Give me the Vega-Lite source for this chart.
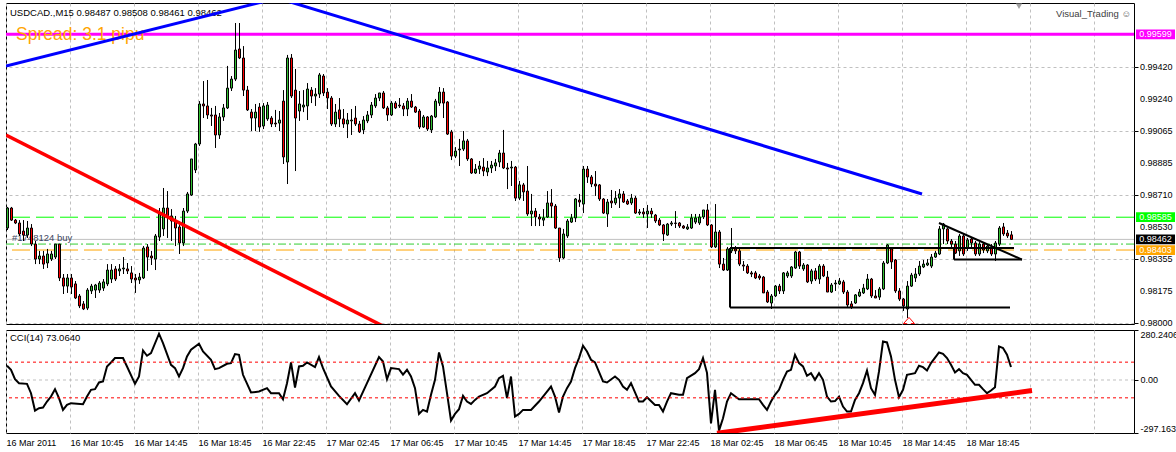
{
"$schema":"https://vega.github.io/schema/vega-lite/v6.json",
"padding":{"left":2,"top":2,"right":0,"bottom":0},
"background":"white",
"spacing":6,
"bounds":"flush",
"config":{"view":{"stroke":"black","strokeWidth":1},"font":"Liberation Sans","text":{"font":"Liberation Sans"},"scale":{"continuousPadding":0},"axis":{"labelOverlap":false,"labelBound":false},"axisY":{"labelOverlap":false},"axisRight":{"labelOverlap":false}},
"datasets":{
"candles":[
{"t":0,"o":0.98525,"h":0.98642,"l":0.98514,"c":0.98636},
{"t":1,"o":0.98636,"h":0.98642,"l":0.98564,"c":0.98569},
{"t":2,"o":0.98569,"h":0.98575,"l":0.98547,"c":0.98553},
{"t":3,"o":0.98553,"h":0.98569,"l":0.98481,"c":0.98492},
{"t":4,"o":0.98508,"h":0.98569,"l":0.98453,"c":0.98486},
{"t":5,"o":0.98486,"h":0.98564,"l":0.98470,"c":0.98525},
{"t":6,"o":0.98525,"h":0.98547,"l":0.98425,"c":0.98436},
{"t":7,"o":0.98436,"h":0.98453,"l":0.98325,"c":0.98353},
{"t":8,"o":0.98353,"h":0.98398,"l":0.98325,"c":0.98370},
{"t":9,"o":0.98370,"h":0.98398,"l":0.98298,"c":0.98325},
{"t":10,"o":0.98331,"h":0.98409,"l":0.98303,"c":0.98381},
{"t":11,"o":0.98353,"h":0.98398,"l":0.98342,"c":0.98381},
{"t":12,"o":0.98364,"h":0.98436,"l":0.98353,"c":0.98436},
{"t":13,"o":0.98436,"h":0.98436,"l":0.98231,"c":0.98248},
{"t":14,"o":0.98248,"h":0.98270,"l":0.98159,"c":0.98203},
{"t":15,"o":0.98203,"h":0.98270,"l":0.98165,"c":0.98248},
{"t":16,"o":0.98248,"h":0.98270,"l":0.98159,"c":0.98198},
{"t":17,"o":0.98215,"h":0.98231,"l":0.98131,"c":0.98137},
{"t":18,"o":0.98148,"h":0.98159,"l":0.98081,"c":0.98093},
{"t":19,"o":0.98104,"h":0.98120,"l":0.98070,"c":0.98076},
{"t":20,"o":0.98081,"h":0.98192,"l":0.98070,"c":0.98181},
{"t":21,"o":0.98176,"h":0.98215,"l":0.98159,"c":0.98203},
{"t":22,"o":0.98181,"h":0.98215,"l":0.98137,"c":0.98209},
{"t":23,"o":0.98181,"h":0.98231,"l":0.98165,"c":0.98220},
{"t":24,"o":0.98192,"h":0.98242,"l":0.98176,"c":0.98226},
{"t":25,"o":0.98215,"h":0.98325,"l":0.98203,"c":0.98292},
{"t":26,"o":0.98242,"h":0.98325,"l":0.98220,"c":0.98292},
{"t":27,"o":0.98298,"h":0.98314,"l":0.98231,"c":0.98242},
{"t":28,"o":0.98287,"h":0.98325,"l":0.98259,"c":0.98298},
{"t":29,"o":0.98298,"h":0.98364,"l":0.98270,"c":0.98303},
{"t":30,"o":0.98298,"h":0.98331,"l":0.98270,"c":0.98287},
{"t":31,"o":0.98276,"h":0.98314,"l":0.98220,"c":0.98242},
{"t":32,"o":0.98248,"h":0.98270,"l":0.98165,"c":0.98237},
{"t":33,"o":0.98237,"h":0.98276,"l":0.98215,"c":0.98253},
{"t":34,"o":0.98248,"h":0.98425,"l":0.98242,"c":0.98414},
{"t":35,"o":0.98420,"h":0.98436,"l":0.98287,"c":0.98364},
{"t":36,"o":0.98370,"h":0.98398,"l":0.98320,"c":0.98359},
{"t":37,"o":0.98353,"h":0.98492,"l":0.98292,"c":0.98481},
{"t":38,"o":0.98475,"h":0.98636,"l":0.98453,"c":0.98603},
{"t":39,"o":0.98520,"h":0.98747,"l":0.98481,"c":0.98636},
{"t":40,"o":0.98636,"h":0.98730,"l":0.98470,"c":0.98592},
{"t":41,"o":0.98592,"h":0.98630,"l":0.98453,"c":0.98564},
{"t":42,"o":0.98564,"h":0.98592,"l":0.98425,"c":0.98525},
{"t":43,"o":0.98531,"h":0.98564,"l":0.98381,"c":0.98442},
{"t":44,"o":0.98442,"h":0.98636,"l":0.98425,"c":0.98619},
{"t":45,"o":0.98619,"h":0.98725,"l":0.98608,"c":0.98714},
{"t":46,"o":0.98708,"h":0.98908,"l":0.98703,"c":0.98908},
{"t":47,"o":0.98847,"h":0.98997,"l":0.98830,"c":0.98991},
{"t":48,"o":0.98991,"h":0.99229,"l":0.98980,"c":0.99213},
{"t":49,"o":0.99213,"h":0.99340,"l":0.99135,"c":0.99202},
{"t":50,"o":0.99202,"h":0.99346,"l":0.99130,"c":0.99152},
{"t":51,"o":0.99152,"h":0.99191,"l":0.99091,"c":0.99146},
{"t":52,"o":0.99152,"h":0.99202,"l":0.98969,"c":0.99041},
{"t":53,"o":0.99041,"h":0.99163,"l":0.99019,"c":0.99141},
{"t":54,"o":0.99141,"h":0.99213,"l":0.99119,"c":0.99191},
{"t":55,"o":0.99191,"h":0.99424,"l":0.99185,"c":0.99301},
{"t":56,"o":0.99301,"h":0.99368,"l":0.99285,"c":0.99351},
{"t":57,"o":0.99351,"h":0.99662,"l":0.99340,"c":0.99512},
{"t":58,"o":0.99518,"h":0.99662,"l":0.99462,"c":0.99468},
{"t":59,"o":0.99468,"h":0.99534,"l":0.99257,"c":0.99290},
{"t":60,"o":0.99290,"h":0.99313,"l":0.99174,"c":0.99180},
{"t":61,"o":0.99168,"h":0.99185,"l":0.99063,"c":0.99135},
{"t":62,"o":0.99135,"h":0.99213,"l":0.99063,"c":0.99168},
{"t":63,"o":0.99196,"h":0.99218,"l":0.99058,"c":0.99085},
{"t":64,"o":0.99091,"h":0.99218,"l":0.99074,"c":0.99202},
{"t":65,"o":0.99130,"h":0.99224,"l":0.99119,"c":0.99207},
{"t":66,"o":0.99135,"h":0.99146,"l":0.99085,"c":0.99102},
{"t":67,"o":0.99107,"h":0.99180,"l":0.99085,"c":0.99102},
{"t":68,"o":0.99107,"h":0.99174,"l":0.99063,"c":0.99124},
{"t":69,"o":0.99229,"h":0.99290,"l":0.98880,"c":0.98919},
{"t":70,"o":0.98891,"h":0.99485,"l":0.98769,"c":0.99468},
{"t":71,"o":0.99468,"h":0.99490,"l":0.99246,"c":0.99257},
{"t":72,"o":0.99290,"h":0.99407,"l":0.98841,"c":0.99135},
{"t":73,"o":0.99174,"h":0.99285,"l":0.99119,"c":0.99213},
{"t":74,"o":0.99196,"h":0.99290,"l":0.99168,"c":0.99207},
{"t":75,"o":0.99202,"h":0.99329,"l":0.99124,"c":0.99296},
{"t":76,"o":0.99290,"h":0.99307,"l":0.99218,"c":0.99257},
{"t":77,"o":0.99257,"h":0.99301,"l":0.99202,"c":0.99268},
{"t":78,"o":0.99268,"h":0.99385,"l":0.99246,"c":0.99374},
{"t":79,"o":0.99368,"h":0.99379,"l":0.99257,"c":0.99274},
{"t":80,"o":0.99279,"h":0.99301,"l":0.99185,"c":0.99246},
{"t":81,"o":0.99246,"h":0.99257,"l":0.99091,"c":0.99102},
{"t":82,"o":0.99102,"h":0.99213,"l":0.99085,"c":0.99168},
{"t":83,"o":0.99180,"h":0.99246,"l":0.99085,"c":0.99130},
{"t":84,"o":0.99130,"h":0.99185,"l":0.99080,"c":0.99102},
{"t":85,"o":0.99102,"h":0.99163,"l":0.99024,"c":0.99124},
{"t":86,"o":0.99119,"h":0.99185,"l":0.99041,"c":0.99124},
{"t":87,"o":0.99135,"h":0.99202,"l":0.99091,"c":0.99102},
{"t":88,"o":0.99102,"h":0.99119,"l":0.99052,"c":0.99058},
{"t":89,"o":0.99069,"h":0.99146,"l":0.99046,"c":0.99124},
{"t":90,"o":0.99119,"h":0.99174,"l":0.99107,"c":0.99152},
{"t":91,"o":0.99152,"h":0.99224,"l":0.99135,"c":0.99207},
{"t":92,"o":0.99202,"h":0.99268,"l":0.99191,"c":0.99246},
{"t":93,"o":0.99246,"h":0.99274,"l":0.99229,"c":0.99274},
{"t":94,"o":0.99274,"h":0.99285,"l":0.99185,"c":0.99191},
{"t":95,"o":0.99191,"h":0.99202,"l":0.99119,"c":0.99152},
{"t":96,"o":0.99152,"h":0.99229,"l":0.99146,"c":0.99218},
{"t":97,"o":0.99218,"h":0.99229,"l":0.99185,"c":0.99191},
{"t":98,"o":0.99207,"h":0.99246,"l":0.99191,"c":0.99202},
{"t":99,"o":0.99202,"h":0.99218,"l":0.99146,"c":0.99185},
{"t":100,"o":0.99185,"h":0.99246,"l":0.99146,"c":0.99229},
{"t":101,"o":0.99229,"h":0.99268,"l":0.99191,"c":0.99196},
{"t":102,"o":0.99196,"h":0.99202,"l":0.99163,"c":0.99168},
{"t":103,"o":0.99174,"h":0.99185,"l":0.99074,"c":0.99085},
{"t":104,"o":0.99085,"h":0.99152,"l":0.99080,"c":0.99141},
{"t":105,"o":0.99141,"h":0.99146,"l":0.99063,"c":0.99074},
{"t":106,"o":0.99069,"h":0.99152,"l":0.99052,"c":0.99146},
{"t":107,"o":0.99141,"h":0.99241,"l":0.99135,"c":0.99229},
{"t":108,"o":0.99218,"h":0.99307,"l":0.99202,"c":0.99279},
{"t":109,"o":0.99279,"h":0.99301,"l":0.99135,"c":0.99218},
{"t":110,"o":0.99224,"h":0.99229,"l":0.99041,"c":0.99046},
{"t":111,"o":0.99058,"h":0.99069,"l":0.98902,"c":0.98924},
{"t":112,"o":0.98924,"h":0.98974,"l":0.98913,"c":0.98952},
{"t":113,"o":0.98958,"h":0.99019,"l":0.98869,"c":0.98963},
{"t":114,"o":0.98963,"h":0.99063,"l":0.98952,"c":0.99008},
{"t":115,"o":0.99008,"h":0.99019,"l":0.98897,"c":0.98908},
{"t":116,"o":0.98908,"h":0.98913,"l":0.98825,"c":0.98830},
{"t":117,"o":0.98830,"h":0.98880,"l":0.98825,"c":0.98852},
{"t":118,"o":0.98852,"h":0.98897,"l":0.98825,"c":0.98869},
{"t":119,"o":0.98863,"h":0.98913,"l":0.98813,"c":0.98841},
{"t":120,"o":0.98836,"h":0.98897,"l":0.98813,"c":0.98858},
{"t":121,"o":0.98858,"h":0.98897,"l":0.98830,"c":0.98874},
{"t":122,"o":0.98869,"h":0.98908,"l":0.98841,"c":0.98886},
{"t":123,"o":0.98891,"h":0.98958,"l":0.98863,"c":0.98941},
{"t":124,"o":0.98941,"h":0.99069,"l":0.98852,"c":0.98858},
{"t":125,"o":0.98858,"h":0.98886,"l":0.98741,"c":0.98852},
{"t":126,"o":0.98858,"h":0.98897,"l":0.98758,"c":0.98863},
{"t":127,"o":0.98863,"h":0.98869,"l":0.98675,"c":0.98691},
{"t":128,"o":0.98691,"h":0.98786,"l":0.98680,"c":0.98764},
{"t":129,"o":0.98764,"h":0.98775,"l":0.98675,"c":0.98725},
{"t":130,"o":0.98730,"h":0.98869,"l":0.98592,"c":0.98603},
{"t":131,"o":0.98603,"h":0.98714,"l":0.98536,"c":0.98619},
{"t":132,"o":0.98619,"h":0.98636,"l":0.98536,"c":0.98586},
{"t":133,"o":0.98586,"h":0.98603,"l":0.98536,"c":0.98575},
{"t":134,"o":0.98569,"h":0.98630,"l":0.98536,"c":0.98581},
{"t":135,"o":0.98586,"h":0.98730,"l":0.98581,"c":0.98664},
{"t":136,"o":0.98664,"h":0.98741,"l":0.98581,"c":0.98647},
{"t":137,"o":0.98647,"h":0.98658,"l":0.98520,"c":0.98525},
{"t":138,"o":0.98525,"h":0.98525,"l":0.98337,"c":0.98359},
{"t":139,"o":0.98359,"h":0.98520,"l":0.98353,"c":0.98492},
{"t":140,"o":0.98481,"h":0.98575,"l":0.98470,"c":0.98564},
{"t":141,"o":0.98558,"h":0.98603,"l":0.98553,"c":0.98581},
{"t":142,"o":0.98581,"h":0.98691,"l":0.98558,"c":0.98686},
{"t":143,"o":0.98680,"h":0.98714,"l":0.98642,"c":0.98669},
{"t":144,"o":0.98658,"h":0.98869,"l":0.98608,"c":0.98852},
{"t":145,"o":0.98852,"h":0.98869,"l":0.98775,"c":0.98808},
{"t":146,"o":0.98808,"h":0.98819,"l":0.98752,"c":0.98769},
{"t":147,"o":0.98769,"h":0.98841,"l":0.98703,"c":0.98758},
{"t":148,"o":0.98764,"h":0.98769,"l":0.98675,"c":0.98686},
{"t":149,"o":0.98686,"h":0.98691,"l":0.98603,"c":0.98608},
{"t":150,"o":0.98603,"h":0.98686,"l":0.98531,"c":0.98669},
{"t":151,"o":0.98675,"h":0.98736,"l":0.98636,"c":0.98664},
{"t":152,"o":0.98664,"h":0.98730,"l":0.98653,"c":0.98691},
{"t":153,"o":0.98691,"h":0.98741,"l":0.98636,"c":0.98714},
{"t":154,"o":0.98714,"h":0.98730,"l":0.98664,"c":0.98669},
{"t":155,"o":0.98675,"h":0.98686,"l":0.98653,"c":0.98658},
{"t":156,"o":0.98664,"h":0.98714,"l":0.98653,"c":0.98691},
{"t":157,"o":0.98691,"h":0.98703,"l":0.98603,"c":0.98608},
{"t":158,"o":0.98608,"h":0.98630,"l":0.98597,"c":0.98614},
{"t":159,"o":0.98614,"h":0.98636,"l":0.98581,"c":0.98603},
{"t":160,"o":0.98603,"h":0.98653,"l":0.98525,"c":0.98619},
{"t":161,"o":0.98619,"h":0.98636,"l":0.98581,"c":0.98603},
{"t":162,"o":0.98597,"h":0.98603,"l":0.98553,"c":0.98564},
{"t":163,"o":0.98569,"h":0.98581,"l":0.98536,"c":0.98542},
{"t":164,"o":0.98542,"h":0.98547,"l":0.98453,"c":0.98492},
{"t":165,"o":0.98486,"h":0.98553,"l":0.98481,"c":0.98547},
{"t":166,"o":0.98547,"h":0.98564,"l":0.98536,"c":0.98553},
{"t":167,"o":0.98553,"h":0.98619,"l":0.98525,"c":0.98550},
{"t":168,"o":0.98553,"h":0.98558,"l":0.98525,"c":0.98536},
{"t":169,"o":0.98536,"h":0.98542,"l":0.98520,"c":0.98525},
{"t":170,"o":0.98520,"h":0.98547,"l":0.98514,"c":0.98531},
{"t":171,"o":0.98525,"h":0.98603,"l":0.98520,"c":0.98581},
{"t":172,"o":0.98558,"h":0.98603,"l":0.98547,"c":0.98581},
{"t":173,"o":0.98553,"h":0.98603,"l":0.98542,"c":0.98586},
{"t":174,"o":0.98586,"h":0.98625,"l":0.98575,"c":0.98625},
{"t":175,"o":0.98625,"h":0.98658,"l":0.98536,"c":0.98542},
{"t":176,"o":0.98542,"h":0.98547,"l":0.98414,"c":0.98420},
{"t":177,"o":0.98420,"h":0.98658,"l":0.98414,"c":0.98503},
{"t":178,"o":0.98503,"h":0.98514,"l":0.98303,"c":0.98325},
{"t":179,"o":0.98325,"h":0.98359,"l":0.98287,"c":0.98292},
{"t":180,"o":0.98292,"h":0.98420,"l":0.98287,"c":0.98409},
{"t":181,"o":0.98398,"h":0.98525,"l":0.98386,"c":0.98414},
{"t":182,"o":0.98409,"h":0.98425,"l":0.98381,"c":0.98398},
{"t":183,"o":0.98398,"h":0.98409,"l":0.98314,"c":0.98325},
{"t":184,"o":0.98320,"h":0.98342,"l":0.98287,"c":0.98314},
{"t":185,"o":0.98314,"h":0.98325,"l":0.98270,"c":0.98276},
{"t":186,"o":0.98276,"h":0.98287,"l":0.98253,"c":0.98270},
{"t":187,"o":0.98276,"h":0.98287,"l":0.98242,"c":0.98248},
{"t":188,"o":0.98259,"h":0.98270,"l":0.98237,"c":0.98248},
{"t":189,"o":0.98253,"h":0.98259,"l":0.98165,"c":0.98165},
{"t":190,"o":0.98170,"h":0.98181,"l":0.98109,"c":0.98115},
{"t":191,"o":0.98109,"h":0.98159,"l":0.98076,"c":0.98148},
{"t":192,"o":0.98148,"h":0.98209,"l":0.98142,"c":0.98203},
{"t":193,"o":0.98203,"h":0.98215,"l":0.98159,"c":0.98176},
{"t":194,"o":0.98176,"h":0.98281,"l":0.98159,"c":0.98276},
{"t":195,"o":0.98259,"h":0.98287,"l":0.98248,"c":0.98276},
{"t":196,"o":0.98259,"h":0.98314,"l":0.98248,"c":0.98309},
{"t":197,"o":0.98303,"h":0.98398,"l":0.98298,"c":0.98392},
{"t":198,"o":0.98392,"h":0.98398,"l":0.98298,"c":0.98314},
{"t":199,"o":0.98298,"h":0.98331,"l":0.98287,"c":0.98320},
{"t":200,"o":0.98320,"h":0.98325,"l":0.98220,"c":0.98226},
{"t":201,"o":0.98231,"h":0.98298,"l":0.98215,"c":0.98287},
{"t":202,"o":0.98287,"h":0.98303,"l":0.98231,"c":0.98242},
{"t":203,"o":0.98242,"h":0.98325,"l":0.98215,"c":0.98314},
{"t":204,"o":0.98314,"h":0.98325,"l":0.98253,"c":0.98259},
{"t":205,"o":0.98253,"h":0.98287,"l":0.98170,"c":0.98170},
{"t":206,"o":0.98170,"h":0.98220,"l":0.98165,"c":0.98209},
{"t":207,"o":0.98215,"h":0.98237,"l":0.98176,"c":0.98220},
{"t":208,"o":0.98215,"h":0.98248,"l":0.98209,"c":0.98231},
{"t":209,"o":0.98226,"h":0.98237,"l":0.98159,"c":0.98170},
{"t":210,"o":0.98170,"h":0.98181,"l":0.98087,"c":0.98098},
{"t":211,"o":0.98104,"h":0.98120,"l":0.98076,"c":0.98087},
{"t":212,"o":0.98109,"h":0.98159,"l":0.98104,"c":0.98154},
{"t":213,"o":0.98148,"h":0.98187,"l":0.98142,"c":0.98170},
{"t":214,"o":0.98165,"h":0.98215,"l":0.98159,"c":0.98192},
{"t":215,"o":0.98187,"h":0.98270,"l":0.98181,"c":0.98242},
{"t":216,"o":0.98242,"h":0.98248,"l":0.98137,"c":0.98148},
{"t":217,"o":0.98148,"h":0.98181,"l":0.98137,"c":0.98137},
{"t":218,"o":0.98142,"h":0.98198,"l":0.98126,"c":0.98187},
{"t":219,"o":0.98187,"h":0.98342,"l":0.98181,"c":0.98331},
{"t":220,"o":0.98331,"h":0.98436,"l":0.98325,"c":0.98431},
{"t":221,"o":0.98409,"h":0.98414,"l":0.98298,"c":0.98337},
{"t":222,"o":0.98348,"h":0.98353,"l":0.98165,"c":0.98176},
{"t":223,"o":0.98176,"h":0.98192,"l":0.98120,"c":0.98131},
{"t":224,"o":0.98131,"h":0.98137,"l":0.98065,"c":0.98093},
{"t":225,"o":0.98076,"h":0.98231,"l":0.98026,"c":0.98203},
{"t":226,"o":0.98203,"h":0.98276,"l":0.98198,"c":0.98264},
{"t":227,"o":0.98248,"h":0.98303,"l":0.98226,"c":0.98270},
{"t":228,"o":0.98270,"h":0.98342,"l":0.98259,"c":0.98314},
{"t":229,"o":0.98309,"h":0.98348,"l":0.98303,"c":0.98325},
{"t":230,"o":0.98320,"h":0.98353,"l":0.98314,"c":0.98331},
{"t":231,"o":0.98314,"h":0.98381,"l":0.98303,"c":0.98364},
{"t":232,"o":0.98364,"h":0.98398,"l":0.98359,"c":0.98386},
{"t":233,"o":0.98381,"h":0.98536,"l":0.98375,"c":0.98520},
{"t":234,"o":0.98520,"h":0.98553,"l":0.98436,"c":0.98547},
{"t":235,"o":0.98520,"h":0.98525,"l":0.98436,"c":0.98453},
{"t":236,"o":0.98453,"h":0.98464,"l":0.98414,"c":0.98436},
{"t":237,"o":0.98436,"h":0.98453,"l":0.98381,"c":0.98386},
{"t":238,"o":0.98398,"h":0.98492,"l":0.98370,"c":0.98481},
{"t":239,"o":0.98481,"h":0.98492,"l":0.98370,"c":0.98381},
{"t":240,"o":0.98414,"h":0.98470,"l":0.98398,"c":0.98459},
{"t":241,"o":0.98464,"h":0.98475,"l":0.98414,"c":0.98442},
{"t":242,"o":0.98442,"h":0.98453,"l":0.98370,"c":0.98381},
{"t":243,"o":0.98381,"h":0.98447,"l":0.98370,"c":0.98436},
{"t":244,"o":0.98436,"h":0.98442,"l":0.98386,"c":0.98403},
{"t":245,"o":0.98398,"h":0.98431,"l":0.98386,"c":0.98425},
{"t":246,"o":0.98414,"h":0.98436,"l":0.98370,"c":0.98381},
{"t":247,"o":0.98381,"h":0.98453,"l":0.98342,"c":0.98442},
{"t":248,"o":0.98436,"h":0.98536,"l":0.98425,"c":0.98525},
{"t":249,"o":0.98531,"h":0.98553,"l":0.98481,"c":0.98492},
{"t":250,"o":0.98497,"h":0.98514,"l":0.98470,"c":0.98481},
{"t":251,"o":0.98487,"h":0.98508,"l":0.98461,"c":0.98462}
],
"cci":[
{"t":0,"v":79.6},{"t":1,"v":57},{"t":2,"v":4.7},{"t":3,"v":-17.8},{"t":5,"v":-21.5},{"t":6,"v":-74},{"t":7,"v":-171.4},{"t":8,"v":-158},{"t":9,"v":-154.5},{"t":10,"v":-120.8},{"t":11,"v":-92.7},{"t":12,"v":-51.5},{"t":13,"v":-102},{"t":14,"v":-167.6},{"t":15,"v":-139.5},{"t":16,"v":-130},{"t":19,"v":-135.8},{"t":20,"v":-92.7},{"t":21,"v":-55.2},{"t":22,"v":-51.5},{"t":23,"v":-14},{"t":24,"v":-8.4},{"t":25,"v":75.8},{"t":26,"v":98.3},{"t":27,"v":122.7},{"t":29,"v":122.7},{"t":30,"v":75.8},{"t":32,"v":-21.5},{"t":33,"v":19.7},{"t":34,"v":165.8},{"t":35,"v":135.8},{"t":36,"v":150.8},{"t":38,"v":259.4},{"t":39,"v":207},{"t":41,"v":85.2},{"t":42,"v":66.5},{"t":43,"v":19.7},{"t":44,"v":66.5},{"t":45,"v":132},{"t":46,"v":169.5},{"t":48,"v":203.2},{"t":49,"v":160},{"t":51,"v":113.3},{"t":52,"v":60.9},{"t":53,"v":66.5},{"t":55,"v":90.8},{"t":56,"v":94.6},{"t":57,"v":145},{"t":58,"v":141.4},{"t":59,"v":29},{"t":61,"v":-70.2},{"t":63,"v":-64.6},{"t":65,"v":-45.9},{"t":66,"v":-74},{"t":68,"v":-74},{"t":69,"v":-107.7},{"t":70,"v":-17.8},{"t":71,"v":98.3},{"t":72,"v":-42.1},{"t":73,"v":75.8},{"t":74,"v":79.6},{"t":75,"v":98.3},{"t":77,"v":72.1},{"t":78,"v":128.3},{"t":79,"v":66.5},{"t":81,"v":-36.5},{"t":83,"v":-89},{"t":85,"v":-135.8},{"t":87,"v":-74},{"t":88,"v":-115.2},{"t":90,"v":-17.8},{"t":93,"v":128.3},{"t":94,"v":103.9},{"t":95,"v":4.7},{"t":96,"v":66.5},{"t":98,"v":60.9},{"t":99,"v":30},{"t":100,"v":57},{"t":101,"v":19.7},{"t":102,"v":-45.9},{"t":103,"v":-190},{"t":104,"v":-167.6},{"t":105,"v":-177},{"t":106,"v":-83.3},{"t":107,"v":0.9},{"t":108,"v":154.5},{"t":109,"v":75.8},{"t":110,"v":-74},{"t":111,"v":-227.6},{"t":112,"v":-190},{"t":113,"v":-164},{"t":114,"v":-89},{"t":115,"v":-120.8},{"t":116,"v":-134},{"t":117,"v":-111.4},{"t":118,"v":-92.7},{"t":120,"v":-74},{"t":122,"v":-36.5},{"t":123,"v":10.3},{"t":124,"v":23.4},{"t":125,"v":-102},{"t":126,"v":19.7},{"t":127,"v":-205},{"t":128,"v":-190},{"t":129,"v":-167.6},{"t":131,"v":-167.6},{"t":133,"v":-120.8},{"t":135,"v":-64.6},{"t":136,"v":-36.5},{"t":137,"v":-92.7},{"t":138,"v":-182.6},{"t":139,"v":-92.7},{"t":140,"v":-45.9},{"t":141,"v":-8.4},{"t":142,"v":66.5},{"t":143,"v":122.7},{"t":144,"v":192},{"t":145,"v":160},{"t":146,"v":113.3},{"t":147,"v":98.3},{"t":149,"v":-8.4},{"t":150,"v":-14},{"t":152,"v":19.7},{"t":153,"v":0.9},{"t":154,"v":-36.5},{"t":155,"v":-55.2},{"t":156,"v":-17.8},{"t":158,"v":-120.8},{"t":159,"v":-120.8},{"t":160,"v":-96.5},{"t":162,"v":-139.5},{"t":163,"v":-139.5},{"t":164,"v":-177},{"t":165,"v":-120.8},{"t":166,"v":-74},{"t":168,"v":-83.3},{"t":169,"v":-83.3},{"t":170,"v":10.3},{"t":172,"v":38.4},{"t":173,"v":60.9},{"t":174,"v":122.7},{"t":175,"v":40},{"t":176,"v":-243},{"t":177,"v":-55},{"t":178,"v":-284},{"t":179,"v":-214.4},{"t":180,"v":-120.8},{"t":181,"v":-74},{"t":183,"v":-107.7},{"t":185,"v":-107.7},{"t":188,"v":-107.7},{"t":189,"v":-139.5},{"t":190,"v":-167.6},{"t":191,"v":-120.8},{"t":192,"v":-83.3},{"t":193,"v":-55.2},{"t":194,"v":0.9},{"t":195,"v":47.8},{"t":196,"v":57},{"t":197,"v":141.4},{"t":198,"v":94.6},{"t":199,"v":75.8},{"t":200,"v":23.4},{"t":201,"v":38.4},{"t":202,"v":0.9},{"t":203,"v":38.4},{"t":204,"v":0.9},{"t":205,"v":-92.7},{"t":206,"v":-120.8},{"t":207,"v":-118},{"t":208,"v":-92.7},{"t":209,"v":-149},{"t":210,"v":-177},{"t":211,"v":-177},{"t":212,"v":-111.4},{"t":213,"v":-74},{"t":214,"v":-17.8},{"t":215,"v":53.4},{"t":216,"v":-45.9},{"t":217,"v":-83.3},{"t":218,"v":47.8},{"t":219,"v":216.3},{"t":220,"v":210.7},{"t":221,"v":132},{"t":222,"v":0.9},{"t":223,"v":-96.5},{"t":224,"v":-55.2},{"t":225,"v":29},{"t":227,"v":38.4},{"t":228,"v":79.6},{"t":229,"v":72.1},{"t":230,"v":53.4},{"t":231,"v":94.6},{"t":233,"v":154.5},{"t":234,"v":147},{"t":235,"v":122.7},{"t":236,"v":85.2},{"t":237,"v":42.1},{"t":238,"v":60.9},{"t":239,"v":38.4},{"t":240,"v":29},{"t":242,"v":-27.2},{"t":243,"v":-27.2},{"t":244,"v":-51.5},{"t":245,"v":-74},{"t":246,"v":-59},{"t":247,"v":-40.3},{"t":248,"v":188.2},{"t":249,"v":178.9},{"t":250,"v":141.4},{"t":251,"v":73.064}
],
"levels":[
{"name":"magenta","price":0.99599},
{"name":"green","price":0.98585},
{"name":"bid","price":0.98462},
{"name":"order","price":0.98436},
{"name":"orange","price":0.98403}
],
"ticks":[
{"price":0.98},{"price":0.98175},{"price":0.98355},{"price":0.9853},{"price":0.9871},{"price":0.98885},{"price":0.99065},{"price":0.9924},{"price":0.9942}
],
"trend":[
{"line":"blue1","t":0,"price":0.99424},{"line":"blue1","t":65,"price":0.99784},
{"line":"blue2","t":70.25,"price":0.99784},{"line":"blue2","t":229,"price":0.98714},
{"line":"red","t":0,"price":0.99041},{"line":"red","t":94,"price":0.97984},
{"line":"box_top","t":181,"price":0.98414},{"line":"box_top","t":252,"price":0.98414},
{"line":"box_bottom","t":181,"price":0.98084},{"line":"box_bottom","t":251,"price":0.98084},
{"line":"box_left","t":181,"price":0.98414},{"line":"box_left","t":181,"price":0.98084},
{"line":"tri_slope","t":233.25,"price":0.98553},{"line":"tri_slope","t":254,"price":0.98350},
{"line":"tri_bottom","t":237,"price":0.98350},{"line":"tri_bottom","t":254,"price":0.98350},
{"line":"tri_left","t":237,"price":0.98414},{"line":"tri_left","t":237,"price":0.98350}
],
"ccitrend":[{"t":177.75,"v":-298.9},{"t":256.5,"v":-59}]
},
"vconcat":[
{
"width":1128,"height":321,
"layer":[
{"data":{"name":"levels"},"transform":[{"filter":"datum.name == 'magenta'"}],
 "mark":{"type":"rule","color":"#FF00FF","strokeWidth":3},
 "encoding":{"y":{"field":"price","type":"quantitative","scale":{"domain":[0.979927,0.99773],"nice":false,"zero":false},"title":null,
   "axis":{"orient":"right","values":[0.98,0.98175,0.98355,0.9853,0.9871,0.98885,0.99065,0.9924,0.9942,0.996],"labels":false,"labelOverlap":false,"grid":true,"gridColor":"#C0C0C0","gridDash":[3,3],"domain":false,"ticks":true,"tickSize":4,"tickColor":"black","title":null}}}},
{"data":{"name":"candles"},
 "mark":{"type":"rule","opacity":0},
 "encoding":{"x":{"field":"t","type":"quantitative","scale":{"domain":[0,282],"nice":false,"zero":false,"padding":0},"title":null,
   "axis":{"orient":"bottom","values":[0,8,16,24,32,40,48,56,64,72,80,88,96,104,112,120,128,136,144,152,160,168,176,184,192,200,208,216,224,232,240,248,256,264,272,280],"grid":true,"gridColor":"#C0C0C0","gridDash":[3,3],"labels":false,"ticks":false,"domain":false,"title":null}},
   "y":{"field":"h","type":"quantitative","scale":{"domain":[0.979927,0.99773],"nice":false,"zero":false},"title":null}}},
{"data":{"name":"ticks"},
 "mark":{"type":"text","align":"left","baseline":"middle","fontSize":9,"color":"black","dx":6},
 "encoding":{"x":{"datum":282,"type":"quantitative","scale":{"domain":[0,282]}},
   "y":{"field":"price","type":"quantitative","scale":{"domain":[0.979927,0.99773]},"title":null},
   "text":{"field":"price","type":"quantitative","format":".5f"}}},
{"data":{"name":"levels"},"transform":[{"filter":"datum.name == 'green'"}],
 "mark":{"type":"rule","color":"#00FF00","strokeWidth":1,"strokeDash":[18,6]},
 "encoding":{"y":{"field":"price","type":"quantitative","scale":{"domain":[0.979927,0.99773]},"title":null}}},
{"data":{"name":"levels"},"transform":[{"filter":"datum.name == 'bid'"}],
 "mark":{"type":"rule","color":"#C0C0C0","strokeWidth":1},
 "encoding":{"y":{"field":"price","type":"quantitative","scale":{"domain":[0.979927,0.99773]},"title":null}}},
{"data":{"name":"levels"},"transform":[{"filter":"datum.name == 'order'"}],
 "mark":{"type":"rule","color":"#32CD32","strokeWidth":1,"strokeDash":[8,3,2,3]},
 "encoding":{"y":{"field":"price","type":"quantitative","scale":{"domain":[0.979927,0.99773]},"title":null}}},
{"data":{"name":"levels"},"transform":[{"filter":"datum.name == 'orange'"}],
 "mark":{"type":"rule","color":"#FFA500","strokeWidth":1,"strokeDash":[18,6]},
 "encoding":{"y":{"field":"price","type":"quantitative","scale":{"domain":[0.979927,0.99773]},"title":null}}},
{"data":{"values":[{"label":"USDCAD.,M15  0.98487 0.98508 0.98461 0.98462"}]},
 "mark":{"type":"text","align":"left","baseline":"middle","fontSize":9.5,"color":"black"},
 "encoding":{"text":{"field":"label"},"x":{"datum":1,"type":"quantitative","scale":{"domain":[0,282]}},"y":{"datum":0.9972,"type":"quantitative","scale":{"domain":[0.979927,0.99773]}}}},
{"data":{"values":[{"label":"Spread: 3.1 pipu"}]},
 "mark":{"type":"text","align":"left","baseline":"middle","fontSize":17.5,"color":"#FFA500"},
 "encoding":{"text":{"field":"label"},"x":{"datum":2.5,"type":"quantitative","scale":{"domain":[0,282]}},"y":{"datum":0.99595,"type":"quantitative","scale":{"domain":[0.979927,0.99773]}}}},
{"data":{"values":[{"label":"Visual_Trading ☺"}]},
 "mark":{"type":"text","align":"left","baseline":"middle","fontSize":9.5,"color":"#404040"},
 "encoding":{"text":{"field":"label"},"x":{"datum":262.5,"type":"quantitative","scale":{"domain":[0,282]}},"y":{"datum":0.99712,"type":"quantitative","scale":{"domain":[0.979927,0.99773]}}}},
{"data":{"values":[{"label":"#1748124 buy"}]},
 "mark":{"type":"text","align":"left","baseline":"middle","fontSize":9.5,"color":"#3C4660"},
 "encoding":{"text":{"field":"label"},"x":{"datum":1.5,"type":"quantitative","scale":{"domain":[0,282]}},"y":{"datum":0.98472,"type":"quantitative","scale":{"domain":[0.979927,0.99773]}}}},
{"data":{"name":"candles"},
 "mark":{"type":"rule","color":"black","strokeWidth":1,"xOffset":1.5},
 "encoding":{"x":{"field":"t","type":"quantitative","scale":{"domain":[0,282]},"title":null},
   "y":{"field":"l","type":"quantitative","scale":{"domain":[0.979927,0.99773]},"title":null},
   "y2":{"field":"h"}}},
{"data":{"name":"candles"},
 "mark":{"type":"bar","width":2,"stroke":"black","strokeWidth":1,"xOffset":1.5,"orient":"vertical"},
 "encoding":{"x":{"field":"t","type":"quantitative","scale":{"domain":[0,282]},"title":null},
   "y":{"field":"o","type":"quantitative","scale":{"domain":[0.979927,0.99773]},"title":null},
   "y2":{"field":"c"},
   "fill":{"condition":{"test":"datum.c >= datum.o","value":"#32C032"},"value":"#FF0000"}}},
{"data":{"name":"trend"},"transform":[{"filter":"datum.line == 'blue1' || datum.line == 'blue2'"}],
 "mark":{"type":"line","color":"#0000FF","strokeWidth":3,"clip":true},
 "encoding":{"x":{"field":"t","type":"quantitative","scale":{"domain":[0,282]},"title":null},
   "y":{"field":"price","type":"quantitative","scale":{"domain":[0.979927,0.99773]},"title":null},
   "detail":{"field":"line"}}},
{"data":{"name":"trend"},"transform":[{"filter":"datum.line == 'red'"}],
 "mark":{"type":"line","color":"#FF0000","strokeWidth":3.5,"clip":true},
 "encoding":{"x":{"field":"t","type":"quantitative","scale":{"domain":[0,282]},"title":null},
   "y":{"field":"price","type":"quantitative","scale":{"domain":[0.979927,0.99773]},"title":null},
   "detail":{"field":"line"}}},
{"data":{"name":"trend"},"transform":[{"filter":"indexof(datum.line, 'box') == 0 || indexof(datum.line, 'tri') == 0"}],
 "mark":{"type":"line","color":"black","strokeWidth":2,"clip":true},
 "encoding":{"x":{"field":"t","type":"quantitative","scale":{"domain":[0,282]},"title":null},
   "y":{"field":"price","type":"quantitative","scale":{"domain":[0.979927,0.99773]},"title":null},
   "detail":{"field":"line"}}},
{"data":{"values":[{"k":"arrow"}]},
 "mark":{"type":"point","shape":"M0,-1L0.9,0L0.35,0L0.35,1L-0.35,1L-0.35,0L-0.9,0Z","size":150,"filled":true,"fill":"white","stroke":"#FF0000","strokeWidth":1,"opacity":1,"clip":true},
 "encoding":{"x":{"datum":225.75,"type":"quantitative","scale":{"domain":[0,282]}},"y":{"datum":0.97995,"type":"quantitative","scale":{"domain":[0.979927,0.99773]}}}},
{"data":{"values":[{"k":"shift"}]},
 "mark":{"type":"point","shape":"triangle-down","size":40,"filled":true,"color":"#A0A0A0","opacity":1},
 "encoding":{"x":{"datum":253.25,"type":"quantitative","scale":{"domain":[0,282]}},"y":{"datum":0.99755,"type":"quantitative","scale":{"domain":[0.979927,0.99773]}}}},
{"data":{"name":"levels"},"transform":[{"filter":"datum.name != 'order'"}],
 "mark":{"type":"point","shape":"M-1,-0.25H1V0.25H-1Z","size":1521,"filled":true,"opacity":1},
 "encoding":{"x":{"datum":287.375,"type":"quantitative","scale":{"domain":[0,282]}},
   "y":{"field":"price","type":"quantitative","scale":{"domain":[0.979927,0.99773]},"title":null},
   "fill":{"field":"name","type":"nominal","scale":{"domain":["magenta","green","bid","orange"],"range":["#FF00FF","#00FF00","#000000","#FFA500"]},"legend":null}}},
{"data":{"name":"levels"},"transform":[{"filter":"datum.name != 'order'"}],
 "mark":{"type":"text","align":"center","baseline":"middle","fontSize":9,"color":"white"},
 "encoding":{"x":{"datum":287.375,"type":"quantitative","scale":{"domain":[0,282]}},
   "y":{"field":"price","type":"quantitative","scale":{"domain":[0.979927,0.99773]},"title":null},
   "text":{"field":"price","type":"quantitative","format":".5f"}}}
]
},
{
"width":1128,"height":103,
"layer":[
{"data":{"values":[{"lv":0}]},
 "mark":{"type":"rule","color":"#C0C0C0","strokeDash":[3,3],"strokeWidth":1},
 "encoding":{"y":{"field":"lv","type":"quantitative","scale":{"domain":[-297.163,280.2406],"nice":false,"zero":false},"title":null,
   "axis":{"orient":"right","values":[280.2406,100,0,-100,-297.163],"labelExpr":"datum.value == 0 ? '0.00' : datum.value == 100 ? '100' : datum.value == -100 ? '-100' : datum.value > 200 ? '280.2406' : '-297.163'","labelFlush":true,"labelOverlap":false,"grid":false,"domain":false,"ticks":true,"tickSize":4,"tickColor":"black","labelFont":"Liberation Sans","labelFontSize":9,"labelColor":"black","labelPadding":2,"title":null}}}},
{"data":{"name":"cci"},
 "mark":{"type":"line","color":"black","strokeWidth":2,"xOffset":1},
 "encoding":{"x":{"field":"t","type":"quantitative","scale":{"domain":[0,282],"nice":false,"zero":false,"padding":0},"title":null,
   "axis":{"orient":"bottom","values":[0,8,16,24,32,40,48,56,64,72,80,88,96,104,112,120,128,136,144,152,160,168,176,184,192,200,208,216,224,232,240,248,256,264,272,280],"grid":true,"gridColor":"#C0C0C0","gridDash":[3,3],"ticks":false,"domain":false,"labelAlign":"left","labelFlush":false,"labelOverlap":false,"labelBound":false,"labelPadding":5,"labelFont":"Liberation Sans","labelFontSize":9,"labelColor":"black","title":null,
   "labelExpr":"(datum.value % 16 == 0 && datum.value <= 240) ? ['16 Mar 2011','16 Mar 10:45','16 Mar 14:45','16 Mar 18:45','16 Mar 22:45','17 Mar 02:45','17 Mar 06:45','17 Mar 10:45','17 Mar 14:45','17 Mar 18:45','17 Mar 22:45','18 Mar 02:45','18 Mar 06:45','18 Mar 10:45','18 Mar 14:45','18 Mar 18:45'][datum.value / 16] : ''"}},
   "y":{"field":"v","type":"quantitative","scale":{"domain":[-297.163,280.2406]},"title":null}}},
{"data":{"values":[{"lv":100},{"lv":-100}]},
 "mark":{"type":"rule","color":"#FF0000","strokeDash":[3,3],"strokeWidth":1},
 "encoding":{"y":{"field":"lv","type":"quantitative","scale":{"domain":[-297.163,280.2406]},"title":null}}},
{"data":{"name":"ccitrend"},
 "mark":{"type":"line","color":"#FF0000","strokeWidth":5,"clip":true},
 "encoding":{"x":{"field":"t","type":"quantitative","scale":{"domain":[0,282]},"title":null},
   "y":{"field":"v","type":"quantitative","scale":{"domain":[-297.163,280.2406]},"title":null}}},
{"data":{"values":[{"label":"CCI(14) 73.0640"}]},
 "mark":{"type":"text","align":"left","baseline":"middle","fontSize":9.5,"color":"black"},
 "encoding":{"text":{"field":"label"},"x":{"datum":1,"type":"quantitative","scale":{"domain":[0,282]}},"y":{"datum":233,"type":"quantitative","scale":{"domain":[-297.163,280.2406]}}}}
]
}
]
}
